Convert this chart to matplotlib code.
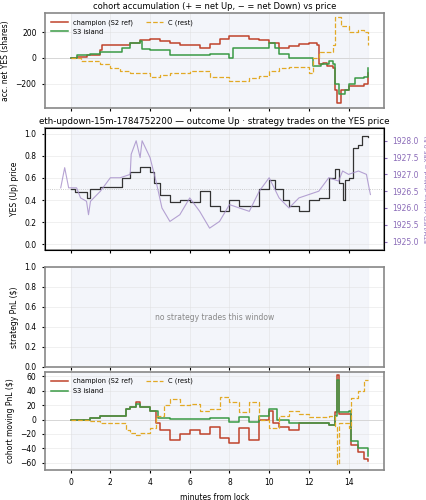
import matplotlib
matplotlib.use("Agg")
from matplotlib import pyplot as plt
from matplotlib.ticker import FormatStrFormatter, MultipleLocator

CHAMP = "#c0432b"
S3 = "#3a9a45"
CREST = "#e2a925"

# cohort accumulation (shares)
acc_champ_t = [0, 0.3, 0.8, 1.5, 1.6, 2.6, 3, 3.5, 4, 4.5, 5, 5.5, 6.5, 7, 7.5, 8, 8.5, 9, 9.5, 10, 10.5, 11, 11.5, 12, 12.4, 12.5, 12.7, 12.9, 13.2, 13.3, 13.4, 13.6, 14, 14.5, 14.8, 15]
acc_champ_v = [0, 10, 20, 60, 100, 100, 120, 140, 150, 130, 120, 100, 80, 110, 150, 170, 170, 150, 140, 120, 80, 90, 110, 120, 100, -50, -40, -60, -80, -250, -350, -250, -220, -220, -200, -120]
acc_s3_t = [0, 0.3, 1, 1.5, 2.6, 3, 3.5, 3.6, 4, 5, 6, 7, 8, 8.2, 9, 10, 10.3, 10.5, 11, 12, 12.2, 12.6, 13, 13.2, 13.3, 13.5, 13.8, 14, 14.3, 14.8, 15]
acc_s3_v = [0, 20, 30, 50, 80, 120, 130, 70, 60, 20, 20, 30, 0, 80, 80, 120, 80, 30, 0, 0, -60, -50, -20, -50, -200, -280, -250, -200, -160, -150, -80]
acc_c_t = [0, 0.5, 1.5, 2, 2.5, 3, 4, 4.5, 5, 6, 7, 8, 9, 9.5, 10, 10.5, 11, 12, 12.2, 12.5, 13, 13.2, 13.3, 13.6, 14, 14.5, 14.8, 15]
acc_c_v = [0, -20, -50, -80, -100, -120, -150, -130, -120, -100, -150, -180, -160, -140, -100, -80, -70, -120, 0, 50, 50, 100, 320, 250, 200, 220, 200, 100]

# YES price and ETH/USD
yes_t = [0, 0.2, 0.8, 1, 1.5, 2, 2.6, 3, 3.5, 4, 4.2, 4.5, 5, 5.5, 6, 6.5, 7, 7.5, 8, 8.5, 9, 9.5, 10, 10.3, 10.7, 11, 11.5, 12, 12.5, 13, 13.3, 13.5, 13.7, 13.8, 14, 14.2, 14.5, 14.7, 15]
yes_v = [0.5, 0.47, 0.42, 0.5, 0.52, 0.52, 0.6, 0.65, 0.7, 0.65, 0.55, 0.45, 0.38, 0.4, 0.38, 0.48, 0.35, 0.3, 0.4, 0.35, 0.35, 0.5, 0.58, 0.5, 0.4, 0.35, 0.3, 0.4, 0.42, 0.6, 0.68, 0.55, 0.4, 0.58, 0.6, 0.87, 0.9, 0.98, 0.97]
eth_t = [-0.5, -0.3, -0.1, 0.3, 0.5, 0.8, 0.9, 1, 1.5, 2, 2.5, 3, 3.05, 3.3, 3.5, 3.6, 4, 4.3, 4.6, 5, 5.5, 6, 6.5, 7, 7.5, 8, 8.5, 9, 9.5, 10, 10.5, 11, 11.5, 12, 12.5, 13, 13.5, 13.7, 14, 14.5, 14.9, 15.1]
eth_v = [1926.6, 1927.2, 1926.6, 1926.6, 1926.3, 1926.2, 1925.8, 1926.2, 1926.5, 1926.9, 1926.9, 1927.0, 1927.6, 1928.0, 1927.5, 1928.0, 1927.5, 1926.8, 1926.0, 1925.6, 1925.8, 1926.3, 1925.9, 1925.4, 1925.6, 1926.1, 1926.0, 1925.9, 1926.5, 1926.9, 1926.3, 1926.0, 1926.3, 1926.4, 1926.5, 1926.9, 1926.8, 1927.1, 1927.0, 1927.1, 1927.0, 1926.4]

# cohort moving PnL ($)
pnl_champ_t = [0, 0.8, 1, 1.5, 2.6, 2.8, 3, 3.3, 3.5, 4, 4.3, 4.5, 5, 5.5, 6, 6.5, 7, 7.5, 8, 8.5, 9, 9.5, 10, 10.2, 10.5, 11, 11.5, 12, 13, 13.3, 13.4, 13.5, 14, 14.1, 14.5, 14.8, 15]
pnl_champ_v = [0, 0, 2, 5, 5, 15, 18, 25, 18, 12, -5, -15, -28, -20, -15, -20, -10, -25, -32, -12, -28, 0, 12, -5, -10, -15, -5, -5, -7, 10, 62, 8, 8, -35, -45, -55, -57]
pnl_s3_t = [0, 0.8, 1, 1.5, 2.6, 2.8, 3, 3.3, 3.5, 4, 4.4, 5, 7, 8, 8.5, 9, 9.5, 10, 10.4, 11, 12, 13, 13.3, 13.4, 13.5, 14, 14.1, 14.5, 15]
pnl_s3_v = [0, 0, 2, 5, 5, 15, 17, 22, 17, 12, 2, 1, 2, -3, 3, -3, 5, 15, 0, -5, -5, -7, 5, 55, 10, 12, -30, -40, -50]
pnl_c_t = [0, 0.8, 1, 1.5, 2.6, 2.8, 3, 3.3, 3.5, 4, 4.3, 4.7, 5, 5.5, 6, 6.5, 7, 7.5, 8, 8.5, 9, 9.5, 10, 10.5, 11, 11.5, 12, 13, 13.3, 13.4, 13.5, 14, 14.1, 14.5, 14.8, 15]
pnl_c_v = [0, 0, -2, -5, -5, -15, -18, -22, -18, -12, 5, 20, 28, 20, 22, 12, 15, 32, 25, 10, 25, 0, -12, 5, 12, 8, 3, 5, -10, -62, -5, -12, 30, 40, 55, 55]

FS = 5.5


def _style(ax, zero_line=True):
    ax.axvspan(0, 15, color="#eef1f8", alpha=0.7, zorder=0)
    ax.grid(True, color="#dddddd", lw=0.5, alpha=0.6)
    if zero_line:
        ax.axhline(0, color="#cccccc", lw=0.6, zorder=0.5)
    for s in ax.spines.values():
        s.set_color("#888888")
        s.set_linewidth(1.2)
    ax.tick_params(labelsize=FS, length=2.5)
    ax.set_xlim(-1.3, 15.8)


def _main() -> None:
    fig = plt.figure(figsize=(4.27, 5.0), dpi=100)
    L, W = 0.105, 0.795
    ax1 = fig.add_axes([L, 0.784, W, 0.19])
    ax2 = fig.add_axes([L, 0.50, W, 0.244])
    ax3 = fig.add_axes([L, 0.266, W, 0.20])
    ax4 = fig.add_axes([L, 0.06, W, 0.196])

    _style(ax1)
    ax1.step(acc_champ_t, acc_champ_v, where="post", color=CHAMP, lw=1.1, label="champion (S2 ref)")
    ax1.step(acc_s3_t, acc_s3_v, where="post", color=S3, lw=1.1, label="S3 island")
    ax1.step(acc_c_t, acc_c_v, where="post", color=CREST, lw=0.9, ls="--", label="C (rest)")
    ax1.set_ylim(-390, 350)
    ax1.set_ylabel("acc. net YES (shares)", fontsize=FS)
    ax1.set_title("cohort accumulation (+ = net Up, \u2212 = net Down) vs price", fontsize=6, pad=3)
    ax1.legend(loc="upper left", ncol=2, fontsize=4.8, frameon=False, handlelength=2.5)
    ax1.set_xticklabels([])

    _style(ax2, zero_line=False)
    ax2.axhline(0.5, color="#bbbbbb", lw=0.6, ls=":")
    ax2.step(yes_t, yes_v, where="post", color="#333333", lw=0.9)
    ax2.set_ylim(-0.05, 1.05)
    ax2.set_ylabel("YES (Up) price", fontsize=FS)
    ax2.set_title("eth-updown-15m-1784752200 \u2014 outcome Up \u00b7 strategy trades on the YES price",
                  fontsize=6.3, pad=3)
    ax2.set_xticklabels([])
    tw = ax2.twinx()
    tw.plot(eth_t, eth_v, color="#a48cc8", lw=0.8, alpha=0.8)
    tw.set_ylim(1924.75, 1928.38)
    tw.yaxis.set_major_locator(MultipleLocator(0.5))
    tw.yaxis.set_major_formatter(FormatStrFormatter("%.1f"))
    tw.set_ylabel("ETH/USD (strike dotted = YES 0.5)", fontsize=4.5, color="#8a6bb8")
    tw.tick_params(labelsize=FS, colors="#8a6bb8", length=2.5)
    tw.set_xlim(-1.3, 15.8)

    _style(ax3, zero_line=False)
    ax3.set_ylim(0, 1)
    ax3.set_ylabel("strategy PnL ($)", fontsize=FS)
    ax3.text(7.25, 0.5, "no strategy trades this window", ha="center", va="center", fontsize=5.5, color="#888888")
    ax3.set_xticklabels([])

    _style(ax4)
    ax4.step(pnl_champ_t, pnl_champ_v, where="post", color=CHAMP, lw=1.1, label="champion (S2 ref)")
    ax4.step(pnl_s3_t, pnl_s3_v, where="post", color=S3, lw=1.1, label="S3 island")
    ax4.step(pnl_c_t, pnl_c_v, where="post", color=CREST, lw=0.9, ls="--", label="C (rest)")
    ax4.set_ylim(-70, 66)
    ax4.set_yticks([-60, -40, -20, 0, 20, 40, 60])
    ax4.set_ylabel("cohort moving PnL ($)", fontsize=FS)
    ax4.set_xlabel("minutes from lock", fontsize=FS)
    ax4.legend(loc="upper left", ncol=2, fontsize=4.8, frameon=False, handlelength=2.5)

    for ax in (ax1, ax2, ax3, ax4):
        ax.set_xticks([0, 2, 4, 6, 8, 10, 12, 14])
    fig.savefig("out.png", dpi=100)


if __name__ == "__main__":
    _main()
